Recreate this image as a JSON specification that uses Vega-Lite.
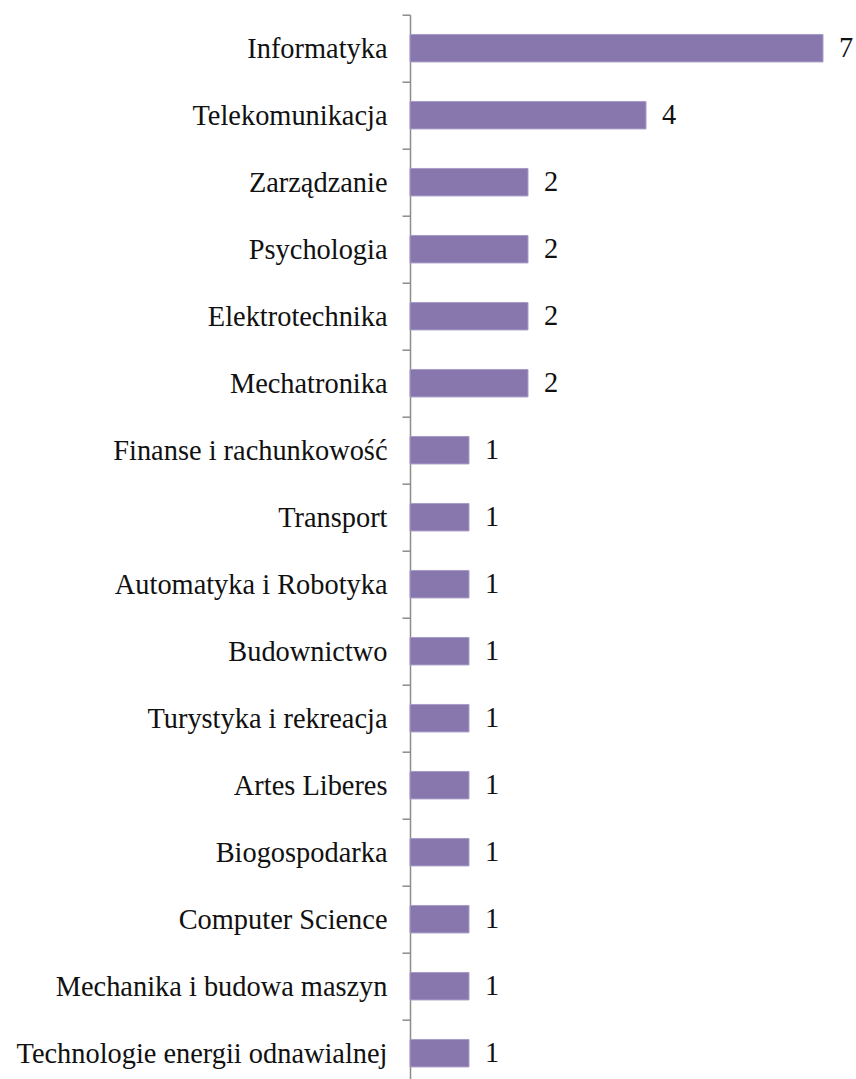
{
  "$schema": "https://vega.github.io/schema/vega-lite/v6.json",
  "width": 413,
  "height": 1072,
  "autosize": {"type": "none"},
  "padding": {"left": 410, "top": 14.7, "right": 33, "bottom": 0},
  "background": "#ffffff",
  "config": {"view": {"stroke": null}},
  "data": {"values": [
    {"kierunek": "Informatyka", "liczba": 7},
    {"kierunek": "Telekomunikacja", "liczba": 4},
    {"kierunek": "Zarządzanie", "liczba": 2},
    {"kierunek": "Psychologia", "liczba": 2},
    {"kierunek": "Elektrotechnika", "liczba": 2},
    {"kierunek": "Mechatronika", "liczba": 2},
    {"kierunek": "Finanse i rachunkowość", "liczba": 1},
    {"kierunek": "Transport", "liczba": 1},
    {"kierunek": "Automatyka i Robotyka", "liczba": 1},
    {"kierunek": "Budownictwo", "liczba": 1},
    {"kierunek": "Turystyka i rekreacja", "liczba": 1},
    {"kierunek": "Artes Liberes", "liczba": 1},
    {"kierunek": "Biogospodarka", "liczba": 1},
    {"kierunek": "Computer Science", "liczba": 1},
    {"kierunek": "Mechanika i budowa maszyn", "liczba": 1},
    {"kierunek": "Technologie energii odnawialnej", "liczba": 1}
  ]},
  "encoding": {
    "y": {
      "field": "kierunek",
      "type": "nominal",
      "sort": null,
      "scale": {"paddingInner": 0, "paddingOuter": 0},
      "axis": {
        "title": null,
        "tickBand": "extent",
        "tickSize": 8,
        "tickColor": "#8c8c8c",
        "tickWidth": 1.5,
        "domainColor": "#8c8c8c",
        "domainWidth": 1.5,
        "labelFont": "Liberation Serif",
        "labelFontSize": 28.4,
        "labelColor": "#111111",
        "labelPadding": 15,
        "labelLimit": 0
      }
    },
    "x": {
      "field": "liczba",
      "type": "quantitative",
      "scale": {"domain": [0, 7]},
      "axis": null
    }
  },
  "layer": [
    {
      "mark": {"type": "bar", "height": {"band": 0.41}, "color": "#8777ad", "stroke": "#a89bc8", "strokeWidth": 1}
    },
    {
      "mark": {"type": "text", "align": "left", "baseline": "middle", "dx": 16, "font": "Liberation Serif", "fontSize": 28.4, "color": "#111111"},
      "encoding": {"text": {"field": "liczba", "type": "quantitative"}}
    }
  ]
}
